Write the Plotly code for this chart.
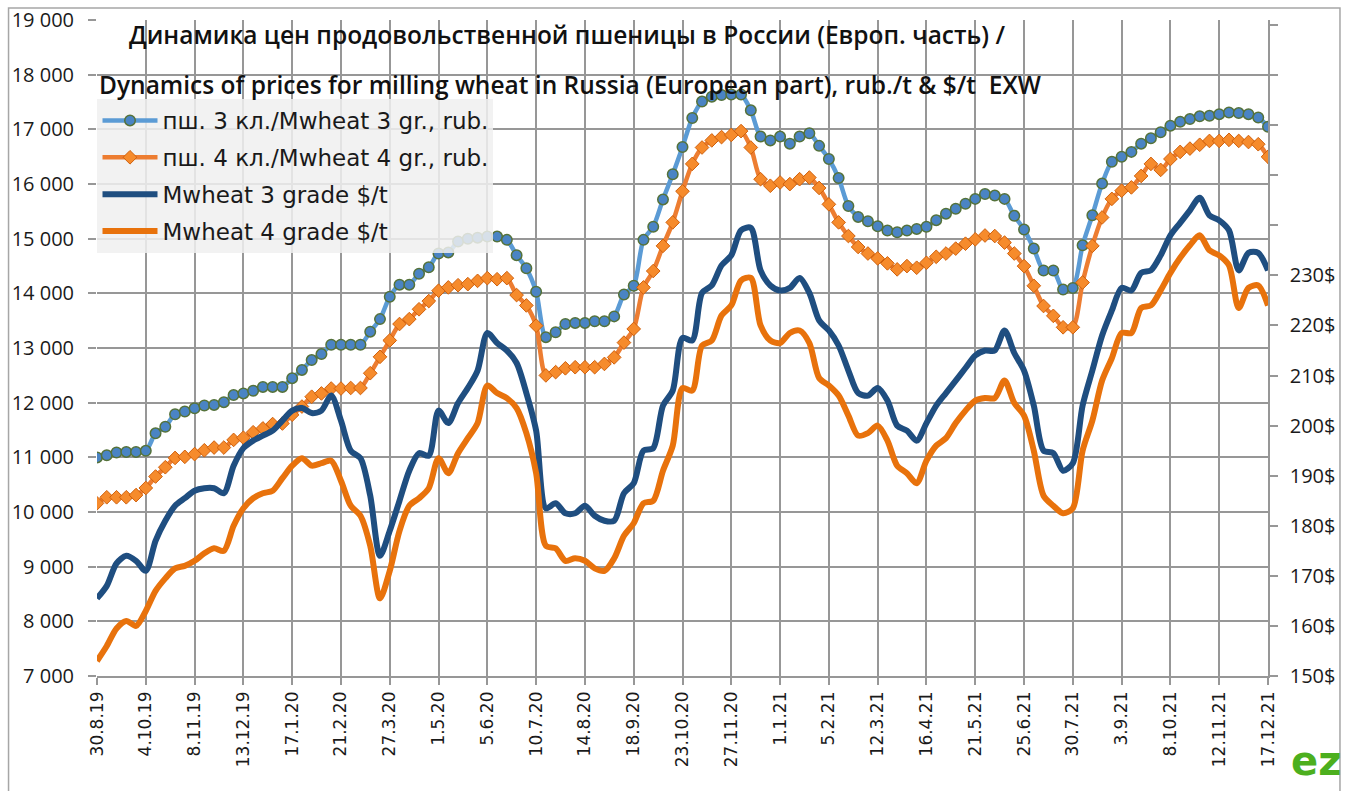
import pandas as pd
import plotly.graph_objects as go

# ---- categories: weekly dates 30.8.2019 .. 17.12.2021 ----
weeks = pd.date_range("2019-08-30", "2021-12-17", freq="7D")
categories = [f"{d.day}.{d.month}.{d.year % 100}" for d in weeks]
tick_labels = categories[::5]

# ---- series (rub/t, left axis) ----
rub_3 = [11000, 11040, 11090, 11100, 11100, 11120, 11440, 11560, 11790, 11840,
         11900, 11950, 11960, 12010, 12140, 12170, 12220, 12290, 12290, 12290,
         12450, 12600, 12780, 12890, 13060, 13060, 13060, 13060, 13300, 13530,
         13940, 14160, 14160, 14360, 14480, 14730, 14750, 14950, 15000, 15020,
         15040, 15040, 14980, 14700, 14460, 14030, 13200, 13290, 13440, 13460,
         13460, 13490, 13490, 13580, 13980, 14140, 14980, 15220, 15720, 16180,
         16680, 17210, 17510, 17600, 17630, 17640, 17640, 17350, 16870, 16800,
         16870, 16740, 16870, 16930, 16700, 16460, 16110, 15600, 15400, 15320,
         15230, 15150, 15120, 15150, 15180, 15220, 15340, 15460, 15550, 15640,
         15730, 15820, 15790, 15730, 15420, 15170, 14820, 14420, 14420, 14070,
         14100, 14880, 15430, 16010, 16410, 16500, 16590, 16740, 16840, 16950,
         17070, 17140, 17190, 17240, 17250, 17280, 17310, 17300, 17280, 17220,
         17050]
rub_4 = [10160, 10270, 10270, 10270, 10310, 10440, 10650, 10820, 10990, 11010,
         11060, 11130, 11180, 11180, 11320, 11360, 11460, 11530, 11610, 11620,
         11780, 11930, 12110, 12170, 12260, 12260, 12270, 12270, 12540, 12840,
         13140, 13440, 13530, 13710, 13860, 14050, 14110, 14150, 14170, 14230,
         14280, 14260, 14280, 13970, 13780, 13410, 12500, 12560, 12630, 12650,
         12650, 12650, 12710, 12830, 13100, 13350, 14110, 14410, 14870, 15300,
         15870, 16370, 16670, 16800, 16860, 16900, 16970, 16670, 16090, 15970,
         16030, 16000, 16090, 16120, 15930, 15630, 15300, 15050, 14850, 14730,
         14640, 14550, 14440, 14500, 14470, 14560, 14670, 14730, 14820, 14910,
         14990, 15060, 15050, 14930, 14730, 14500, 14140, 13770, 13590, 13380,
         13380, 14200, 14870, 15390, 15730, 15880, 15940, 16150, 16370, 16260,
         16460, 16590, 16650, 16720, 16790, 16790, 16810, 16790, 16770, 16730,
         16500]

# ---- series ($/t, right axis) ----
usd_3 = [165.5, 168, 172.5, 174, 173, 171, 177, 181, 184, 185.5,
         187, 187.5, 187.5, 186.5, 192, 195.5, 197, 198, 199, 201,
         203, 203.5, 202.5, 203, 206, 201, 195, 193.5, 186, 174,
         179, 185, 191, 194.5, 194, 203, 200.5, 204.5, 207.5, 211,
         218.5, 216.5, 215, 212.5, 206.5, 199, 183.5, 184.5, 182.5, 182.5,
         184, 182, 181, 181, 186.5, 188.5, 195, 195.5, 204, 207,
         217.5, 217, 226.5, 228, 232, 234, 239, 239.5, 231, 228,
         227, 227.5, 229.5, 226.5, 221, 219, 216, 211, 206.5, 206,
         207.5, 205, 200, 199, 197, 200.5, 204, 206.5, 209, 211.5,
         214, 215, 215, 219, 214.5, 211, 204, 195, 194.5, 191,
         192.5, 204, 211, 218, 223, 227.5, 227, 230.5, 231, 234,
         238, 240.5, 243, 245.5, 242, 241, 239, 231, 234.5, 234.5,
         231]
usd_4 = [153, 156, 159.5, 161, 160, 163, 167, 169.5, 171.5, 172,
         173, 174.5, 175.5, 175, 180, 183.5, 185.5, 186.5, 187, 189.5,
         192, 193.5, 192, 192.5, 193, 189, 184, 182, 176, 165.5,
         171, 179, 184, 185.5, 187.5, 193.5, 190.5, 194.5, 197.5, 200.5,
         208, 206.5, 205.5, 203.5, 198.5, 190.5, 176, 175.5, 173, 173.5,
         173, 171.5, 171, 173.5, 178, 180.5, 184.5, 185, 191, 196,
         207.5, 207, 216, 217, 222, 224, 229, 229.5, 220, 217,
         216.5, 218.5, 219, 216.5, 209.5, 208, 206, 202, 198, 198.5,
         200, 197, 192, 190.5, 188.5, 193, 196, 197.5, 200.5, 203,
         205, 205.5, 205.5, 209, 204.5, 202, 195, 186, 184, 182.5,
         183.5, 195, 201, 209, 213.5, 218.5, 218.5, 223.5, 224, 227,
         230.5, 233.5, 236, 238, 235, 234, 232, 223.5, 227.5, 228,
         224]

series_names = ["пш. 3 кл./Mwheat 3 gr., rub.",
                "пш. 4 кл./Mwheat 4 gr., rub.",
                "Mwheat 3 grade $/t",
                "Mwheat 4 grade $/t"]

left_ticks = list(range(7000, 19001, 1000))
left_text = [f"{v // 1000} 000" for v in left_ticks]
right_ticks = list(range(150, 281, 10))
right_text = [f"{v}$" if v <= 230 else "" for v in right_ticks]

title_ru = "Динамика цен продовольственной пшеницы в России (Европ. часть) /"
title_en = "Dynamics of prices for milling wheat in Russia (European part), rub./t & $/t  EXW"

FONT = "Open Sans"
GRID = "#979797"

# plot area in page pixels (body margin is removed below)
PL, PR, PT, PB = 96.5, 1268.0, 20.0, 676.5


def px_x(px):
    return (px - PL) / (PR - PL)


def px_y(py):
    return (PB - py) / (PB - PT)


fig = go.Figure()
fig.add_trace(go.Scatter(
    x=categories, y=rub_3, name=series_names[0], mode="lines+markers",
    line=dict(color="#5b9bd5", width=4.5, shape="spline", smoothing=0.8),
    marker=dict(symbol="circle", size=10.5, color="#4a84c4",
                line=dict(color="#55723a", width=1.5)),
    legendgroup="a", yaxis="y"))
fig.add_trace(go.Scatter(
    x=categories, y=rub_4, name=series_names[1], mode="lines+markers",
    line=dict(color="#ed7d31", width=4.5, shape="spline", smoothing=0.8),
    marker=dict(symbol="diamond", size=10.5, color="#f68b2c",
                line=dict(color="#d0600c", width=1)),
    legendgroup="b", yaxis="y"))
fig.add_trace(go.Scatter(
    x=categories, y=usd_3, name=series_names[2], mode="lines",
    line=dict(color="#1f4e80", width=6, shape="spline", smoothing=0.8),
    legendgroup="c", yaxis="y2"))
fig.add_trace(go.Scatter(
    x=categories, y=usd_4, name=series_names[3], mode="lines",
    line=dict(color="#e8720c", width=6, shape="spline", smoothing=0.8),
    legendgroup="d", yaxis="y2"))

fig.update_layout(
    width=1346, height=791,
    margin=dict(l=PL, r=1346 - PR, t=PT, b=791 - PB),
    paper_bgcolor="white", plot_bgcolor="white",
    font=dict(family=FONT, color="#1a1a1a"),
    showlegend=True,
    legend=dict(x=px_x(97), y=px_y(99), xanchor="left", yanchor="top",
                bgcolor="rgba(240,240,240,0.85)", borderwidth=0,
                font=dict(family="DejaVu Sans", size=23, color="#1a1a1a"),
                tracegroupgap=4, itemwidth=55),
    xaxis=dict(type="category", range=[0, 120], automargin=False,
               tickmode="array", tickvals=tick_labels, ticktext=tick_labels,
               tickangle=-90, tickfont=dict(family="DejaVu Sans", size=17, color="#1a1a1a"),
               showgrid=True, gridcolor=GRID, gridwidth=1.5,
               ticks="outside", ticklen=7, tickcolor=GRID, tickwidth=1.5,
               ticklabeloverflow="allow",
               showline=True, linecolor=GRID, linewidth=1.5, zeroline=False),
    yaxis=dict(range=[7000, 19003], automargin=False, tickmode="array",
               tickvals=left_ticks, ticktext=left_text,
               tickfont=dict(family=FONT, size=20, color="#1a1a1a"),
               showgrid=True, gridcolor=GRID, gridwidth=1.5,
               ticks="outside", ticklen=8, tickcolor=GRID, tickwidth=1.5,
               ticklabelstandoff=10, ticklabeloverflow="allow",
               showline=False, zeroline=False),
    yaxis2=dict(range=[150, 281], overlaying="y", side="right", automargin=False,
                tickmode="array", tickvals=right_ticks, ticktext=right_text,
                tickfont=dict(family=FONT, size=20, color="#1a1a1a"),
                showgrid=False, ticks="outside", ticklen=8, tickcolor=GRID,
                tickwidth=1.5, showline=True, linecolor=GRID, linewidth=1.5,
                ticklabelstandoff=8, ticklabeloverflow="allow", zeroline=False),
    annotations=[
        dict(text=title_ru, x=px_x(567), y=px_y(35), xref="paper", yref="paper",
             xanchor="center", yanchor="middle", showarrow=False,
             font=dict(family=FONT, size=24.5, color="#111111", weight=600)),
        dict(text=title_en, x=px_x(570), y=px_y(85), xref="paper", yref="paper",
             xanchor="center", yanchor="middle", showarrow=False,
             font=dict(family=FONT, size=24.5, color="#111111", weight=600)),
        dict(text="<b>ez</b>", x=px_x(1316), y=px_y(762), xref="paper", yref="paper",
             xanchor="center", yanchor="middle", showarrow=False,
             font=dict(family="DejaVu Sans", size=40, color="#4caf1e")),
    ],
    shapes=[
        dict(type="rect", xref="paper", yref="paper",
             x0=px_x(8), x1=px_x(1340), y0=px_y(830), y1=px_y(8),
             line=dict(color="#a6a6a6", width=1.5), fillcolor="rgba(0,0,0,0)",
             layer="below"),
    ],
)

fig.write_html("out.html",
               config={"displayModeBar": False},
               post_script="document.body.style.margin='0px';"
                           "document.body.style.overflow='hidden';")
